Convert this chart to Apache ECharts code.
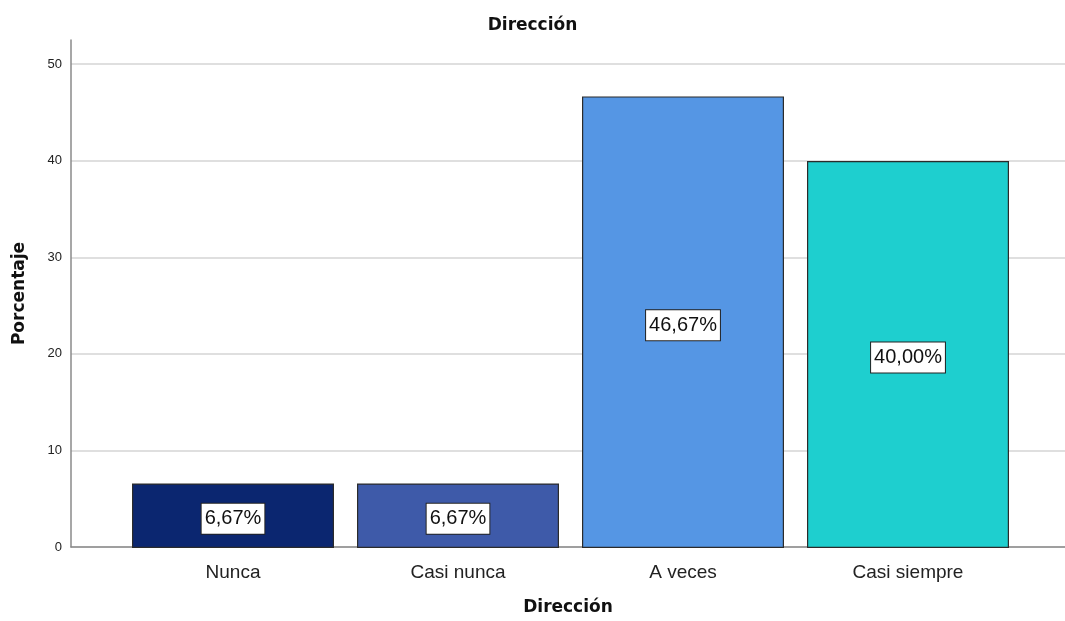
<!DOCTYPE html>
<html>
<head>
<meta charset="utf-8">
<title>Dirección</title>
<script src="https://cdn.jsdelivr.net/npm/echarts@6/dist/echarts.min.js"></script>
<style>
  html, body { margin: 0; padding: 0; background: #fff; }
  #chart { width: 1065px; height: 621px; }
</style>
</head>
<body>
<div id="chart"></div>
<script>
// Categories and their percentage of responses
const categories = ['Nunca', 'Casi nunca', 'A veces', 'Casi siempre'];
const percentages = [6.67, 6.67, 46.67, 40.00];
const yTicks = [0, 10, 20, 30, 40, 50];

// One fill per category
const palette = ['#0b2670', '#3e5aa9', '#5596e4', '#1ecfcf'];

const fmtPct = v => v.toFixed(2).replace('.', ',') + '%';

const chart = echarts.init(document.getElementById('chart'), null, { renderer: 'canvas' });

const yMax = 52.5;
const plotTop = 40, plotBottom = 73;

chart.setOption({
  animation: false,
  backgroundColor: '#ffffff',
  title: {
    text: 'Dirección',
    left: 'center',
    top: 12,
    textStyle: { fontFamily: 'DejaVu Sans', fontWeight: 'bold', fontSize: 17, color: '#111' }
  },
  grid: [
    // frame: axis lines + gridlines across the full width
    { left: 71, right: 0, top: plotTop, bottom: plotBottom, containLabel: false },
    // bars
    { left: 120.5, width: 900, top: plotTop, bottom: plotBottom, containLabel: false }
  ],
  xAxis: [
    {
      gridIndex: 0,
      type: 'value',
      min: 0, max: 1,
      axisLine: { show: true, lineStyle: { color: '#8a8a8a', width: 1.5 } },
      axisTick: { show: false },
      axisLabel: { show: false },
      splitLine: { show: false },
      name: 'Dirección',
      nameLocation: 'middle',
      nameGap: 52,
      nameTextStyle: { fontFamily: 'DejaVu Sans', fontWeight: 'bold', fontSize: 17, color: '#111' }
    },
    {
      gridIndex: 1,
      type: 'category',
      data: categories,
      boundaryGap: true,
      axisLine: { show: false },
      axisTick: { show: false },
      axisLabel: {
        margin: 15,
        fontFamily: 'Liberation Sans',
        fontSize: 19,
        color: '#222'
      }
    }
  ],
  yAxis: [
    {
      gridIndex: 0,
      type: 'value',
      min: 0, max: yMax,
      interval: 10,
      axisLine: { show: true, lineStyle: { color: '#8a8a8a', width: 1.5 } },
      axisTick: { show: false },
      axisLabel: {
        margin: 9,
        fontFamily: 'Liberation Sans',
        fontSize: 13,
        color: '#222',
        showMaxLabel: false,
        formatter: v => (yTicks.indexOf(v) >= 0 ? String(v) : '')
      },
      splitLine: { show: true, showMaxLine: false, lineStyle: { color: '#d4d4d4', width: 1.5 } },
      name: 'Porcentaje',
      nameLocation: 'middle',
      nameGap: 43,
      nameRotate: 90,
      nameTextStyle: { fontFamily: 'DejaVu Sans', fontWeight: 'bold', fontSize: 17, color: '#111' }
    },
    {
      gridIndex: 1,
      type: 'value',
      min: 0, max: yMax,
      show: false
    }
  ],
  series: [
    {
      type: 'bar',
      xAxisIndex: 1,
      yAxisIndex: 1,
      barWidth: 202,
      data: percentages.map((v, i) => ({
        value: v,
        itemStyle: { color: palette[i] }
      })),
      itemStyle: { borderColor: '#2b2b2b', borderWidth: 1.2 },
      label: {
        show: true,
        position: 'inside',
        formatter: p => fmtPct(p.value),
        fontFamily: 'Liberation Sans',
        fontSize: 20,
        color: '#111',
        backgroundColor: '#ffffff',
        borderColor: '#222',
        borderWidth: 1,
        padding: [6, 3, 4, 3],
        offset: [0, 3]
      }
    }
  ]
});
</script>
</body>
</html>
